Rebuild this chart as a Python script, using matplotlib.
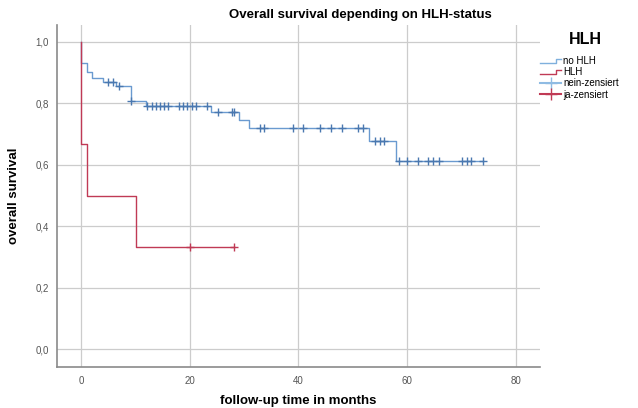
import matplotlib
matplotlib.use('Agg')
import matplotlib.pyplot as plt
import numpy as np
from matplotlib.legend_handler import HandlerBase
from matplotlib.lines import Line2D

plt.rcParams['font.family'] = ['Liberation Sans', 'DejaVu Sans']

# Kaplan-Meier Stufen: Zeitpunkte (Monate) und Überlebenswahrscheinlichkeit
no_hlh_t = [0, 0, 1.05, 2.1, 4.1, 6.45, 9.15, 11.95, 24.0, 29.1, 30.95, 53.0, 57.9, 74.0]
no_hlh_s = [1.0, 0.931, 0.901, 0.884, 0.871, 0.858, 0.808, 0.792, 0.773, 0.746, 0.720, 0.678, 0.614, 0.614]
no_hlh_cens = [5.0, 5.9, 7.0, 9.2, 12.2, 13.0, 13.8, 14.5, 15.3, 16.05, 18.0, 18.8, 19.5,
               20.4, 21.1, 23.1, 25.25, 27.8, 28.1, 32.9, 33.65, 38.9, 40.9, 44.0, 46.0,
               48.05, 51.0, 51.9, 54.0, 54.9, 55.8, 58.4, 60.0, 62.0, 63.9, 64.8, 65.9,
               70.0, 70.9, 71.8, 74.0]

hlh_t = [0, 0, 1.05, 10.2, 28.1]
hlh_s = [1.0, 0.667, 0.5, 0.333, 0.333]
hlh_cens = [20.0, 28.1]

x_ticks = [0, 20, 40, 60, 80]
y_ticks = [0.0, 0.2, 0.4, 0.6, 0.8, 1.0]

blue = '#6a9ad0'
blue_mark = '#4a78b0'
red = '#c03a55'


def surv_at(t_steps, s_steps, times):
    idx = np.searchsorted(t_steps, times, side='right') - 1
    return np.array(s_steps)[idx]


class StepHandler(HandlerBase):
    def create_artists(self, legend, orig_handle, xdescent, ydescent,
                       width, height, fontsize, trans):
        x0, x1 = -xdescent, -xdescent + width
        xm = x0 + 0.75 * width
        y0, y1 = -ydescent + 0.1 * height, -ydescent + 0.8 * height
        line = Line2D([x0, xm, xm, x1], [y0, y0, y1, y1],
                      color=orig_handle.get_color(), lw=1, transform=trans)
        return [line]


fig = plt.figure(figsize=(6.38, 4.08), dpi=100)
ax = fig.add_axes([0.0893, 0.0998, 0.7571, 0.8389])

ax.step(no_hlh_t, no_hlh_s, where='post', color=blue, lw=1)
ax.plot(no_hlh_cens, surv_at(no_hlh_t, no_hlh_s, no_hlh_cens), ls='none',
        marker='+', ms=6, mew=1, color=blue_mark)
ax.step(hlh_t, hlh_s, where='post', color=red, lw=1)
ax.plot(hlh_cens, surv_at(hlh_t, hlh_s, hlh_cens), ls='none',
        marker='+', ms=6, mew=1, color=red)

ax.set_xlim(-4.4, 84.4)
ax.set_ylim(-0.058, 1.055)
ax.set_xticks(x_ticks)
ax.set_yticks(y_ticks)
ax.set_yticklabels([f'{v:.1f}'.replace('.', ',') for v in y_ticks])
ax.tick_params(length=0, labelsize=7, colors='#555555', pad=6)
ax.grid(True, color='#cccccc', lw=0.9)
ax.set_axisbelow(True)
for side in ['top', 'right']:
    ax.spines[side].set_visible(False)
for side in ['left', 'bottom']:
    ax.spines[side].set_color('#8a8a8a')
    ax.spines[side].set_linewidth(1.2)

ax.set_xlabel('follow-up time in months', fontsize=9.5, fontweight='bold', labelpad=7)
ax.set_ylabel('overall survival', fontsize=9.5, fontweight='bold', labelpad=11)
fig.text(360 / 638, 1 - 15 / 408, 'Overall survival depending on HLH-status',
         ha='center', va='center', fontsize=9.5, fontweight='bold')

# Legende
fig.text(585 / 638, 1 - 39 / 408, 'HLH', ha='center', va='center',
         fontsize=11.5, fontweight='bold')
handles = [Line2D([], [], color='#7fb0dd'), Line2D([], [], color=red),
           Line2D([], [], color='#8fbbe3', marker='+', ms=9, mew=1),
           Line2D([], [], color=red, marker='+', ms=9, mew=1)]
labels = ['no HLH', 'HLH', 'nein-zensiert', 'ja-zensiert']
leg = fig.legend(handles, labels, loc='upper left', bbox_to_anchor=(540 / 638, 1 - 56 / 408),
                 frameon=False, fontsize=7, borderpad=0, borderaxespad=0,
                 handlelength=2.2, handletextpad=0.2, labelspacing=0.12,
                 handler_map={handles[0]: StepHandler(), handles[1]: StepHandler()})

fig.savefig('out.png', dpi=100)
